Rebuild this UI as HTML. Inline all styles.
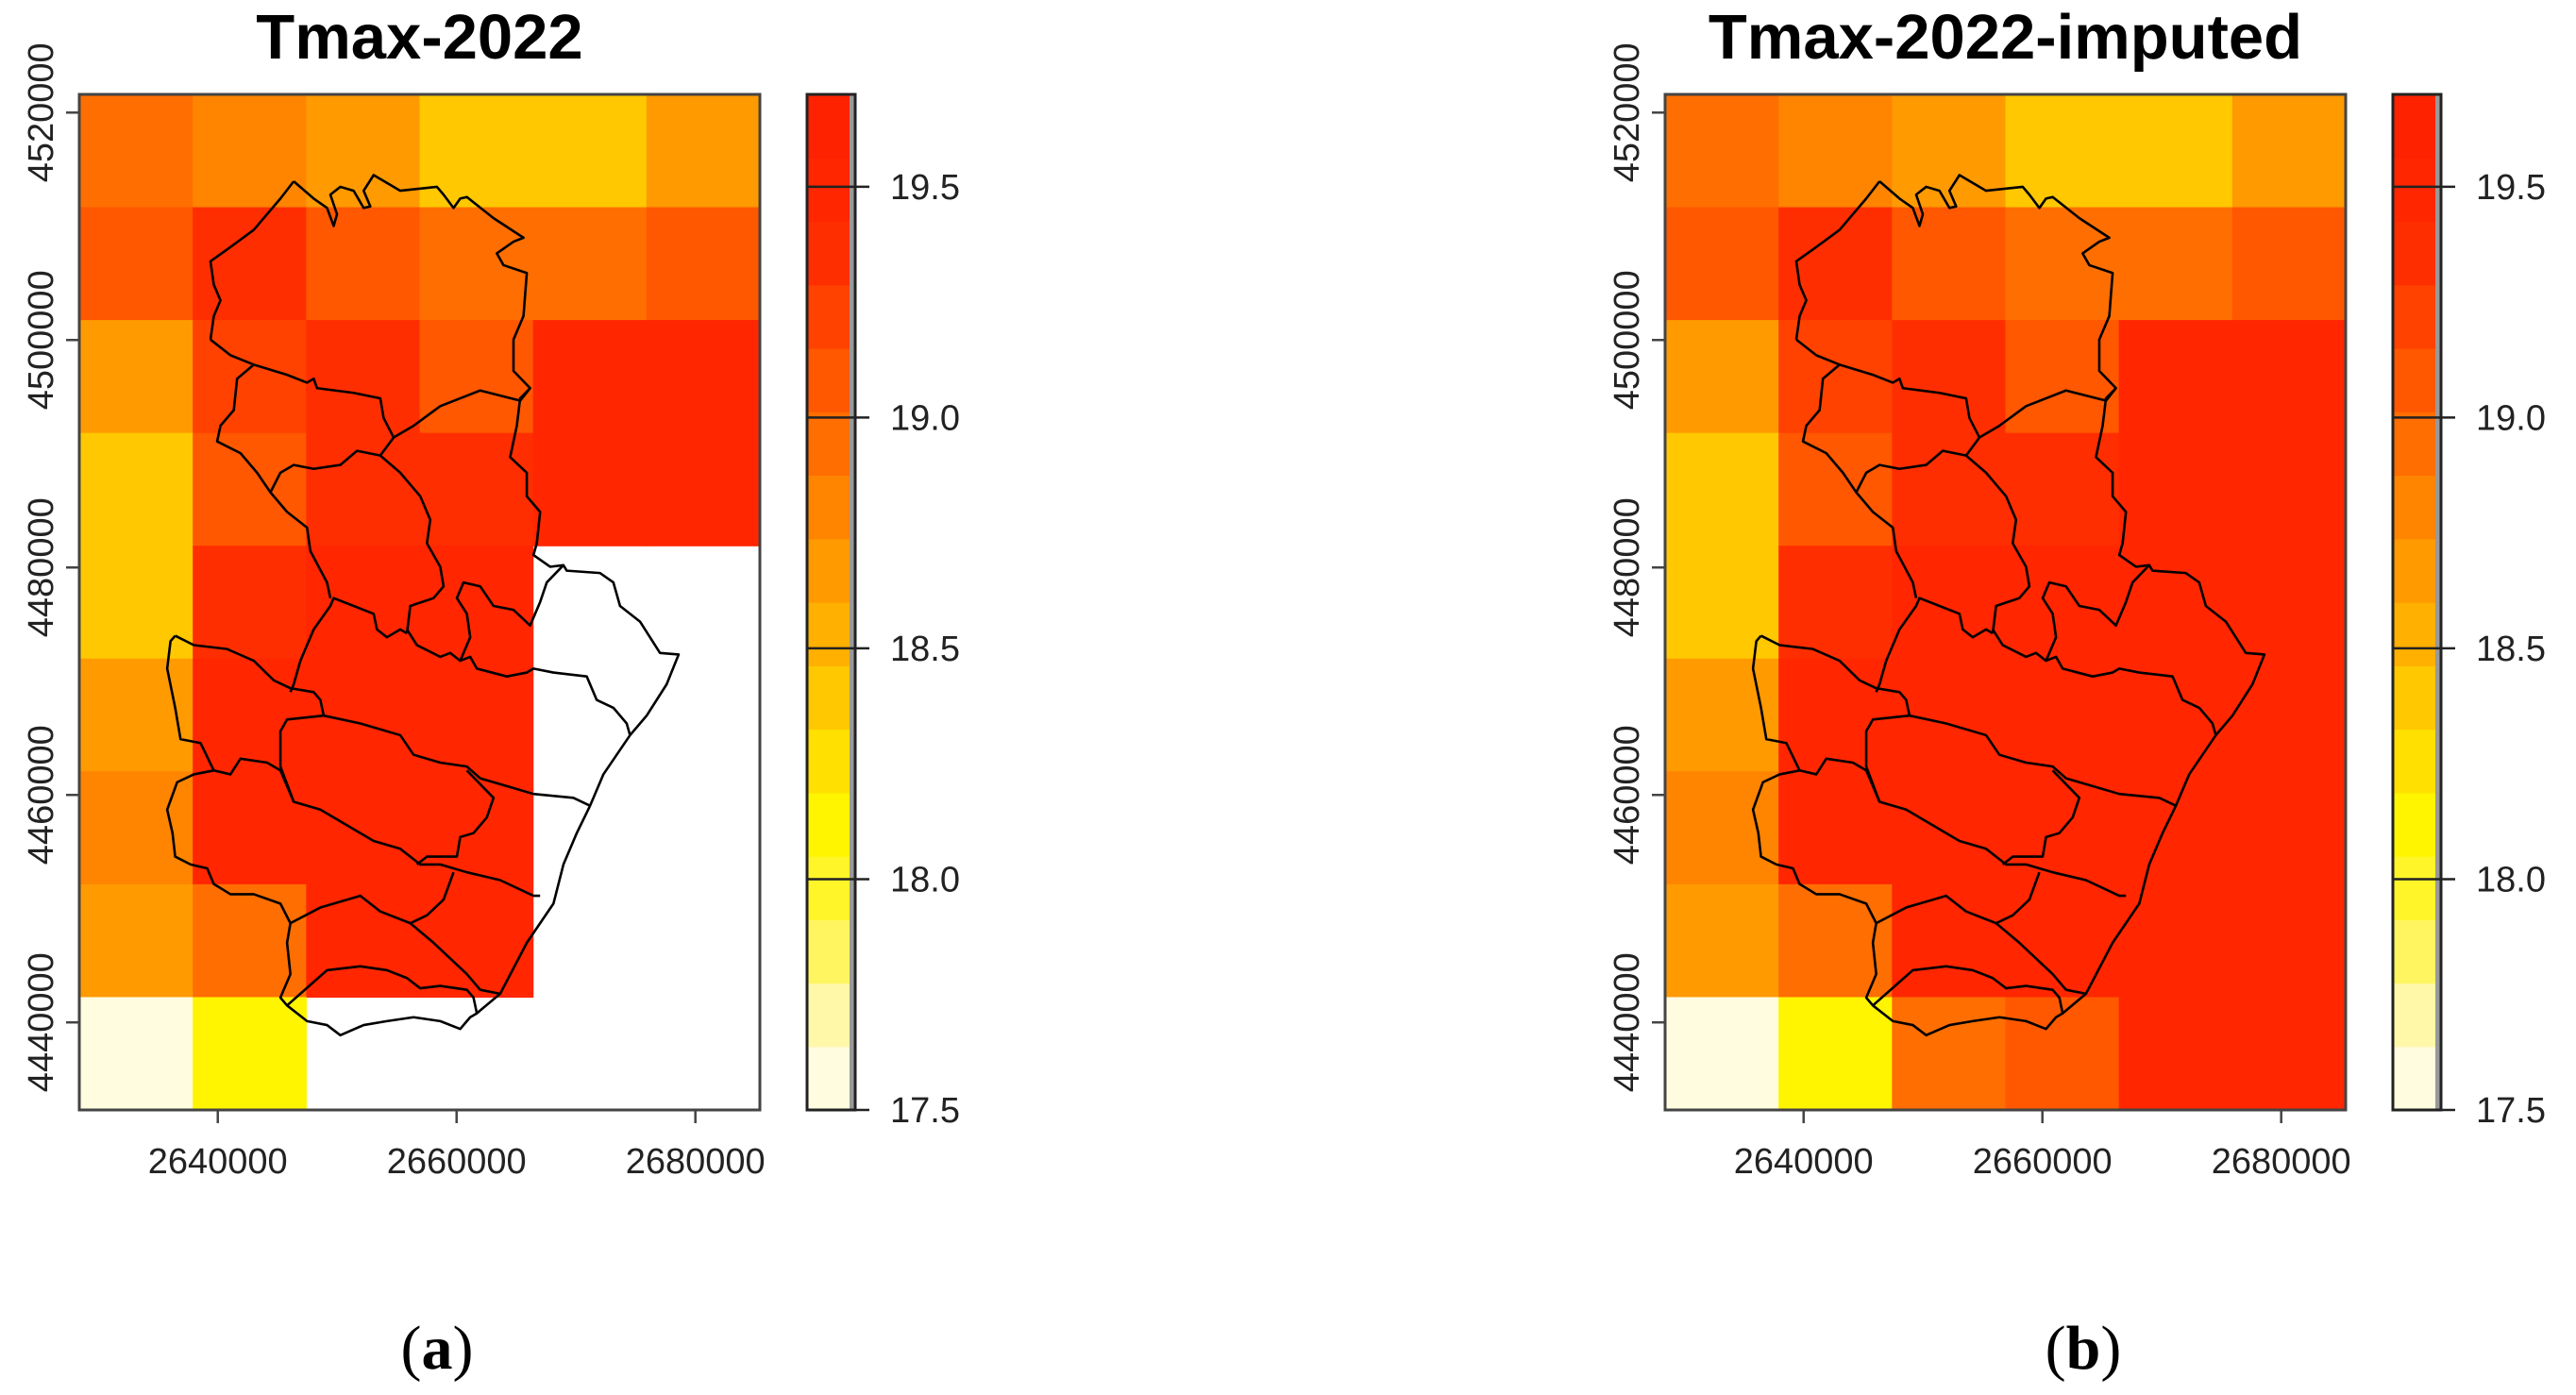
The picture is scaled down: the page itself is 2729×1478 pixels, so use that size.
<!DOCTYPE html>
<html><head><meta charset="utf-8"><style>
html,body{margin:0;padding:0;background:#fff;}
svg{display:block;}
text{font-family:"Liberation Sans",sans-serif;}
text.serif{font-family:"Liberation Serif",serif;}
</style></head><body>
<svg id="fig" width="2729" height="1478" viewBox="0 0 2729 1478" xmlns="http://www.w3.org/2000/svg">
<defs>
<g id="outlines" fill="none" stroke="#000" stroke-width="2.6" stroke-linejoin="round">
<path vector-effect="non-scaling-stroke" d="M440,228 L470,250 490,262 500,285 505,270 495,245 510,235 530,240 545,262 555,260 545,240 560,220 600,240 655,235 665,245 680,262 690,250 700,248 740,275 785,300 770,305 745,320 755,335 790,345 785,400 770,430 770,470 795,492 780,505 775,540 765,580 790,600 790,630 810,650 805,690 800,705 825,720 845,718 850,725 900,728 920,740 930,770 960,790 975,810 990,830 1018,832 1000,870 970,910 945,935 905,985 885,1025 865,1060 845,1100 830,1150 790,1200 750,1265 715,1290 705,1295 690,1310 660,1300 620,1295 580,1300 545,1305 510,1318 490,1305 460,1300 430,1280 420,1270 435,1240 430,1200 435,1175 420,1150 380,1138 345,1138 320,1125 310,1105 285,1100 262,1090 258,1060 250,1030 265,995 290,985 320,980 300,945 270,940 262,900 250,850 255,815 262,808"/>
<path vector-effect="non-scaling-stroke" d="M262,808 L290,820 340,825 380,840 410,865 435,875 470,880 480,890 485,910"/>
<path vector-effect="non-scaling-stroke" d="M440,228 L420,250 380,290 340,315 315,330 320,360 330,380 320,400 315,430"/>
<path vector-effect="non-scaling-stroke" d="M315,430 L345,450 380,462 430,475 460,485 470,480 475,492 530,498 570,505 575,530 590,555 620,540 660,515 720,495 780,508 795,492"/>
<path vector-effect="non-scaling-stroke" d="M380,462 L355,480 350,520 330,540 325,560 360,575 385,600 405,625 430,650 460,670 465,700 490,740 495,760"/>
<path vector-effect="non-scaling-stroke" d="M590,555 L570,578 535,572 510,590 470,595 440,590 420,600 405,625"/>
<path vector-effect="non-scaling-stroke" d="M570,578 L600,600 630,630 645,660 640,690 660,720 665,745 650,760 615,770 610,805"/>
<path vector-effect="non-scaling-stroke" d="M610,805 L600,800 580,810 565,800 560,780 530,770 500,760 495,770 470,800 450,840 440,870 435,880"/>
<path vector-effect="non-scaling-stroke" d="M610,800 L625,820 660,835 675,830 690,840 705,835 715,850 760,860 790,855 800,850 830,855 880,860 895,890 920,900 940,920 945,935"/>
<path vector-effect="non-scaling-stroke" d="M690,840 L705,810 700,780 685,760 695,740 720,745 740,770 770,775 795,795 810,765 820,740 845,718"/>
<path vector-effect="non-scaling-stroke" d="M485,910 L430,915 420,930 420,975 440,1020"/>
<path vector-effect="non-scaling-stroke" d="M485,910 L540,920 600,935 620,960 660,970 700,975 720,990 760,1000 800,1010 860,1015 885,1025"/>
<path vector-effect="non-scaling-stroke" d="M320,980 L345,985 360,965 400,970 420,980 440,1020 480,1030 520,1050 560,1070 600,1080 630,1100 660,1100 700,1110 750,1120 800,1140 810,1140"/>
<path vector-effect="non-scaling-stroke" d="M700,980 L740,1015 730,1040 710,1060 690,1065 685,1090 640,1090 625,1100"/>
<path vector-effect="non-scaling-stroke" d="M680,1110 L665,1145 640,1165 615,1175 650,1200 700,1240 720,1260 750,1265"/>
<path vector-effect="non-scaling-stroke" d="M435,1175 L480,1155 540,1140 570,1160 615,1175"/>
<path vector-effect="non-scaling-stroke" d="M430,1280 L470,1250 490,1235 540,1230 580,1235 610,1245 630,1258 660,1255 700,1260 710,1270 715,1290"/>
</g>
</defs>
<g id="panelA"></g>
<g id="panelB"></g>
</svg>
<script>
// data
const lonTicks = [2640000, 2660000, 2680000];
const latTicks = [4520000, 4500000, 4480000, 4460000, 4440000];
const legendTicks = [17.5, 18.0, 18.5, 19.0, 19.5];
const binColors = ["#FFFCE0","#FFF8A8","#FFF560","#FFF528","#FFF500","#FFE000","#FFC800","#FFB000","#FF9A00","#FF8400","#FF6E00","#FF5800","#FF4200","#FF2E00","#FF2600","#FF2200"];
const zMin = 17.5, zMax = 19.7;
const gridRaw = [
 [19.0,18.8,18.7,18.4,18.4,18.7],
 [19.1,19.4,19.1,19.0,19.0,19.1],
 [18.7,19.25,19.4,19.1,19.55,19.55],
 [18.4,19.1,19.4,19.4,19.55,19.55],
 [18.4,19.4,19.55,19.55,null,null],
 [18.7,19.55,19.55,19.55,null,null],
 [18.8,19.55,19.55,19.55,null,null],
 [18.7,19.0,19.55,19.55,null,null],
 [17.55,18.1,null,null,null,null]
];
const gridImputed = [
 [19.0,18.8,18.7,18.4,18.4,18.7],
 [19.1,19.4,19.1,19.0,19.0,19.1],
 [18.7,19.25,19.4,19.1,19.55,19.55],
 [18.4,19.1,19.4,19.4,19.55,19.55],
 [18.4,19.4,19.55,19.55,19.55,19.55],
 [18.7,19.55,19.55,19.55,19.55,19.55],
 [18.8,19.55,19.55,19.55,19.55,19.55],
 [18.7,19.0,19.55,19.55,19.55,19.55],
 [17.55,18.1,19.0,19.1,19.55,19.55]
];
const xMin = 2628400, xMax = 2685400;
const yMin = 4432300, yMax = 4521600;

const NS = "http://www.w3.org/2000/svg";
function mk(tag, attrs, parent){const e=document.createElementNS(NS,tag);for(const k in attrs)e.setAttribute(k,attrs[k]);parent.appendChild(e);return e;}
function binOf(v){let b=Math.floor((v-zMin)/((zMax-zMin)/binColors.length));return Math.max(0,Math.min(binColors.length-1,b));}

function drawPanel(g, dx, grid, title, letter, labelX){
  const L=84+dx, R=805+dx, T=100, B=1176;
  const sx = v => L + (v-xMin)/(xMax-xMin)*(R-L);
  const sy = v => B - (v-yMin)/(yMax-yMin)*(B-T);
  const nr=grid.length, nc=grid[0].length, cw=(R-L)/nc, ch=(B-T)/nr;
  grid.forEach((row,i)=>row.forEach((v,j)=>{
    if(v===null) return;
    const r=mk('rect',{x:L+j*cw,y:T+i*ch,width:cw+0.6,height:ch+0.6,fill:binColors[binOf(v)]},g);
    
    
  }));
  const u=mk('use',{href:'#outlines',transform:`translate(${84+dx-118*0.7055},${100-117*0.83}) scale(0.7055,0.83)`},g);
  
  
  const box=mk('rect',{x:L,y:T,width:R-L,height:B-T,fill:'none',stroke:'#444',"stroke-width":3},g);
  
  
  lonTicks.forEach(t=>{
    const x=sx(t);
    mk('line',{x1:x,y1:B,x2:x,y2:B+14,stroke:'#444',"stroke-width":2.5},g);
    const tx=mk('text',{x:x,y:B+67,"text-anchor":"middle","font-size":38,fill:"#222"},g);
    tx.textContent=t;
    
    
  });
  latTicks.forEach(t=>{
    const y=sy(t);
    mk('line',{x1:L,y1:y,x2:L-14,y2:y,stroke:'#444',"stroke-width":2.5},g);
    const tx=mk('text',{x:0,y:0,"text-anchor":"middle","font-size":38,fill:"#222",transform:`translate(${L-28},${y}) rotate(-90)`},g);
    tx.textContent=t;
    
    
  });
  const tt=mk('text',{x:(L+R)/2,y:62,"text-anchor":"middle","font-size":67,"font-weight":"bold",fill:"#000"},g);
  tt.textContent=title;
  
  
  const CL=855+dx, CR=906+dx, CT=100, CB=1176;
  const cy = v => CB - (v-zMin)/(zMax-zMin)*(CB-CT);
  const step=(zMax-zMin)/binColors.length;
  binColors.forEach((c,k)=>{
    const y1=cy(zMin+(k+1)*step), y0=cy(zMin+k*step);
    const r=mk('rect',{x:CL,y:y1,width:CR-CL,height:y0-y1+0.6,fill:c},g);
    
    
  });
  mk('line',{x1:CR-3,y1:CT,x2:CR-3,y2:CB,stroke:'#999',"stroke-width":6},g);
  const lb=mk('rect',{x:CL,y:CT,width:CR-CL,height:CB-CT,fill:'none',stroke:'#222',"stroke-width":3},g);
  
  
  legendTicks.forEach(t=>{
    const y=cy(t);
    mk('line',{x1:CL,y1:y,x2:CR+15,y2:y,stroke:'#222',"stroke-width":2.5},g);
    const tx=mk('text',{x:CR+37,y:y+13,"font-size":38,fill:"#222"},g);
    tx.textContent=t.toFixed(1);
    
    
  });
  const pl=mk('text',{x:labelX,y:1450,"text-anchor":"middle","font-size":66,fill:"#000","class":"serif"},g);
  pl.innerHTML='(<tspan font-weight="bold">'+letter+'</tspan>)';
  
  
}
drawPanel(document.getElementById('panelA'),0,gridRaw,'Tmax-2022','a',463);
drawPanel(document.getElementById('panelB'),1680,gridImputed,'Tmax-2022-imputed','b',2207);
</script>
</body></html>
